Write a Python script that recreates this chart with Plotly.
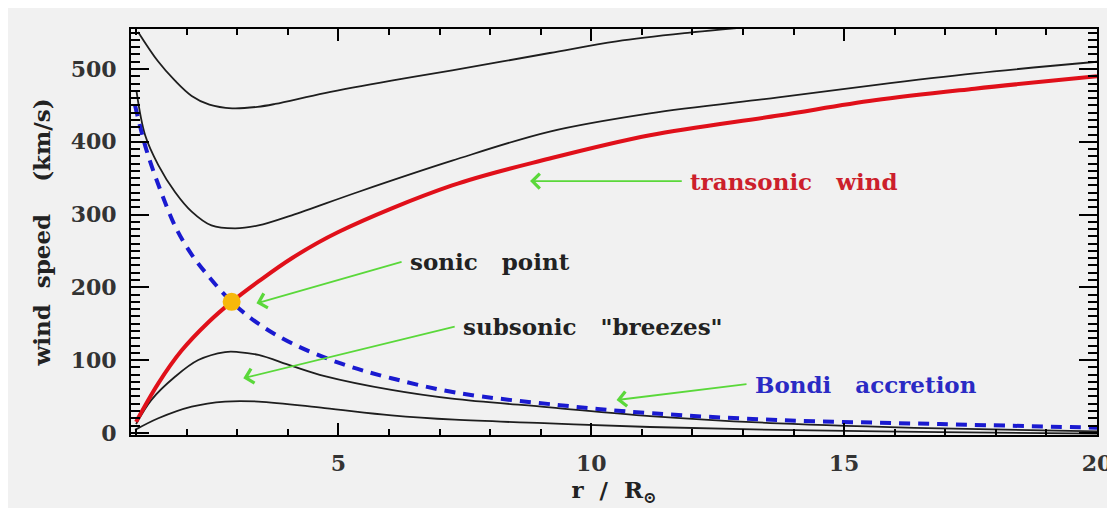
import plotly.graph_objects as go

# ---- data (r in solar radii, v in km/s) ----
r_top = [1.04, 1.43, 1.77, 2.10, 2.45, 2.90, 3.40, 3.75, 4.73, 6.05, 7.25, 9.18, 10.5, 11.95, 13.0]
v_top = [551, 511, 484, 463, 451, 446, 448, 452, 467, 484, 498, 522, 538, 550, 557]

r_upper = [1.01, 1.18, 1.44, 1.77, 2.10, 2.49, 2.96, 3.42, 4.08, 5.39, 7.25, 9.18, 11.16, 13.7, 15.6, 17.58, 20.0]
v_upper = [469, 409, 368, 331, 304, 285, 281, 285, 299, 331, 374, 414, 439, 461, 478, 494, 510]

r_trans = [1.0, 1.44, 1.90, 2.43, 2.89, 3.42, 4.08, 5.0, 7.25, 9.18, 11.16, 13.7, 15.6, 17.58, 20.0]
v_trans = [15, 68, 113, 152, 180, 208, 240, 276, 340, 377, 409, 436, 457, 473, 490]

r_bondi = [0.98, 1.2, 1.5, 1.8, 2.1, 2.4, 2.89, 3.42, 4.08, 5.06, 6.05, 7.35, 9.38, 11.16, 13.7, 16.9, 20.0]
v_bondi = [450, 390, 330, 280, 245, 218, 180, 150, 123, 95, 75, 55, 38, 27, 17.6, 12, 7]

r_breeze1 = [1.0, 1.3, 1.77, 2.23, 2.76, 3.02, 3.42, 4.08, 4.73, 6.05, 7.25, 9.18, 11.16, 13.7, 16.9, 20.0]
v_breeze1 = [12, 45, 77, 100, 111, 111, 107, 92, 78, 59, 47, 35, 23, 13, 6, 2]

r_breeze2 = [0.98, 1.44, 2.10, 2.76, 3.42, 4.73, 6.05, 7.3, 9.18, 11.16, 13.7, 16.9, 20.0]
v_breeze2 = [4, 20, 36, 43, 43, 34, 24, 18, 13, 8, 4, 1, -1]

sonic_r = [2.89]
sonic_v = [180]

# tick spacing
x_major, x_minor = 5, 1
y_major, y_minor = 100, 10

# annotations
labels = ["transonic&nbsp;&nbsp; wind", "sonic&nbsp;&nbsp; point", 'subsonic&nbsp;&nbsp; "breezes"',
          "Bondi&nbsp;&nbsp; accretion"]
label_col = ["#cc1f2c", "#222222", "#222222", "#2a2ac4"]
head_r = [8.79, 3.38, 3.12, 10.50]
head_v = [346, 178, 75, 45]
tail_r = [11.79, 6.25, 7.30, 13.07]
tail_v = [346, 235, 146, 67]

FONT = "DejaVu Serif"
BLACK = "#000000"
X_RANGE = [0.9, 20]
Y_RANGE = [-3, 555]

fig = go.Figure()
for rr, vv in [(r_top, v_top), (r_upper, v_upper), (r_breeze1, v_breeze1), (r_breeze2, v_breeze2)]:
    fig.add_trace(go.Scatter(x=rr, y=vv, mode="lines", line=dict(color="#1e1e1e", width=1.8, shape="spline"),
                             showlegend=False, hoverinfo="skip"))
fig.add_trace(go.Scatter(x=r_trans, y=v_trans, mode="lines",
                         line=dict(color="#e0101a", width=4, shape="spline"), showlegend=False))
fig.add_trace(go.Scatter(x=r_bondi, y=v_bondi, mode="lines",
                         line=dict(color="#1a1ad0", width=4, shape="spline", dash="11px,8px"), showlegend=False))
fig.add_trace(go.Scatter(x=sonic_r, y=sonic_v, mode="markers",
                         marker=dict(color="#f7b80a", size=18, line=dict(width=0)), showlegend=False))
# invisible trace so that the overlay (minor-tick) subplot is created
fig.add_trace(go.Scatter(x=sonic_r, y=sonic_v, xaxis="x2", yaxis="y2", mode="markers",
                         marker=dict(opacity=0), showlegend=False, hoverinfo="skip"))

for i in range(len(labels)):
    fig.add_annotation(x=head_r[i], y=head_v[i], ax=tail_r[i], ay=tail_v[i], xref="x", yref="y",
                       axref="x", ayref="y", text=labels[i], showarrow=True, arrowhead=4, arrowsize=1.6,
                       arrowwidth=1.8, arrowcolor="#5ad83a", xanchor="left", yanchor="middle", borderpad=7,
                       font=dict(family=FONT, size=23, color=label_col[i], weight="bold"))

fig.update_layout(
    width=1107, height=500,
    margin=dict(l=123, r=18, t=21, b=73),
    paper_bgcolor="#f1f1f1", plot_bgcolor="#f1f1f1",
    font=dict(family=FONT, size=21, color="#222222", weight="bold"),
    xaxis2=dict(overlaying="x", anchor="y2", side="bottom", range=X_RANGE, tickmode="linear", tick0=0,
                dtick=x_minor, ticks="inside", ticklen=6, tickwidth=1.5, tickcolor=BLACK, mirror="allticks",
                showline=False, showticklabels=False, showgrid=False, zeroline=False, automargin=False),
    yaxis2=dict(overlaying="y", anchor="x2", side="left", range=Y_RANGE, tickmode="linear", tick0=0,
                dtick=y_minor, ticks="inside", ticklen=9, tickwidth=1.5, tickcolor=BLACK, mirror="allticks",
                showline=False, showticklabels=False, showgrid=False, zeroline=False, automargin=False),
)
fig.update_layout(xaxis=dict(range=X_RANGE, tickmode="linear", tick0=0, dtick=x_major, ticks="inside", ticklen=12,
                             tickwidth=2, tickcolor=BLACK, showline=True, linewidth=2, linecolor=BLACK,
                             mirror="allticks", showgrid=False, zeroline=False, ticklabelstandoff=8,
                             automargin=False, layer="above traces",
                             tickfont=dict(family=FONT, size=22, weight="bold", color="#333333"),
                             title=dict(text="r&nbsp; /&nbsp; R<sub>⊙</sub>",
                                        font=dict(family=FONT, size=23, weight="bold"), standoff=0)),
                  yaxis=dict(range=Y_RANGE, tickmode="linear", tick0=0, dtick=y_major, ticks="inside", ticklen=18,
                             tickwidth=2, tickcolor=BLACK, showline=True, linewidth=2, linecolor=BLACK,
                             mirror="allticks", showgrid=False, zeroline=False, ticklabelstandoff=8,
                             automargin=False, layer="above traces",
                             tickfont=dict(family=FONT, size=22, weight="bold", color="#333333"),
                             title=dict(text="wind&nbsp; speed&nbsp;&nbsp;&nbsp; (km/s)",
                                        font=dict(family=FONT, size=23, weight="bold"), standoff=14)))

fig.write_html("out.html")
